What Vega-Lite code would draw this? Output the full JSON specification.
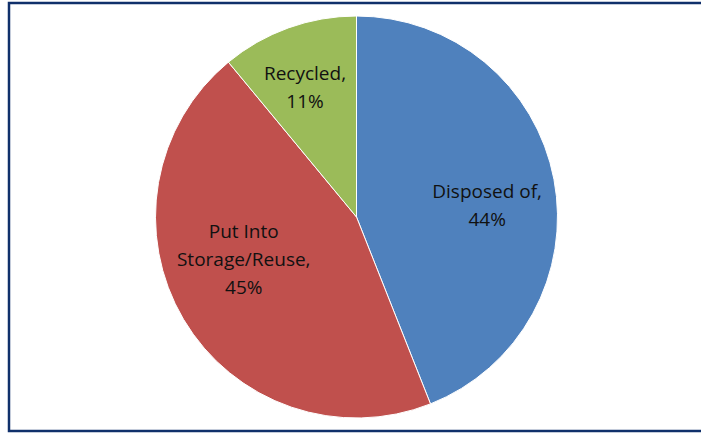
{
  "$schema": "https://vega.github.io/schema/vega-lite/v6.json",
  "width": 701,
  "height": 433,
  "autosize": {"type": "fit", "contains": "padding"},
  "padding": {"left": 9, "top": 3, "right": -3, "bottom": 2},
  "background": "#ffffff",
  "view": {"stroke": "#10306B", "strokeWidth": 2.5},
  "data": {
    "values": [
      {"category": "Disposed of", "percent": 44, "label": "Disposed of,\n44%"},
      {"category": "Put Into Storage/Reuse", "percent": 45, "label": "Put Into\nStorage/Reuse,\n45%"},
      {"category": "Recycled", "percent": 11, "label": "Recycled,\n11%"}
    ]
  },
  "transform": [
    {"stack": "percent", "groupby": [], "as": ["start", "end"]},
    {"calculate": "(datum.start + datum.end) / 2", "as": "mid"}
  ],
  "layer": [
    {
      "mark": {"type": "arc", "outerRadius": 201, "stroke": "#ffffff", "strokeWidth": 1},
      "encoding": {
        "theta": {"field": "start", "type": "quantitative", "scale": {"domain": [0, 100]}},
        "theta2": {"field": "end"},
        "color": {
          "field": "category",
          "type": "nominal",
          "scale": {
            "domain": ["Disposed of", "Put Into Storage/Reuse", "Recycled"],
            "range": ["#4F81BD", "#C0504D", "#9BBB59"]
          },
          "legend": null
        }
      }
    },
    {
      "transform": [{"filter": "datum.category === 'Disposed of'"}],
      "mark": {
        "type": "text", "radius": 133, "lineBreak": "\n", "font": "Open Sans", "fontSize": 19,
        "lineHeight": 28, "color": "#111111", "align": "center", "baseline": "middle"
      },
      "encoding": {
        "theta": {"field": "mid", "type": "quantitative", "scale": {"domain": [0, 100]}},
        "text": {"field": "label", "type": "nominal"}
      }
    },
    {
      "transform": [{"filter": "datum.category === 'Put Into Storage/Reuse'"}],
      "mark": {
        "type": "text", "radius": 131, "dy": -52, "lineBreak": "\n", "font": "Open Sans", "fontSize": 19,
        "lineHeight": 28, "color": "#111111", "align": "center", "baseline": "middle"
      },
      "encoding": {
        "theta": {"field": "mid", "type": "quantitative", "scale": {"domain": [0, 100]}},
        "text": {"field": "label", "type": "nominal"}
      }
    },
    {
      "transform": [{"filter": "datum.category === 'Recycled'"}],
      "mark": {
        "type": "text", "radius": 152, "lineBreak": "\n", "font": "Open Sans", "fontSize": 19,
        "lineHeight": 28, "color": "#111111", "align": "center", "baseline": "middle"
      },
      "encoding": {
        "theta": {"field": "mid", "type": "quantitative", "scale": {"domain": [0, 100]}},
        "text": {"field": "label", "type": "nominal"}
      }
    }
  ]
}
